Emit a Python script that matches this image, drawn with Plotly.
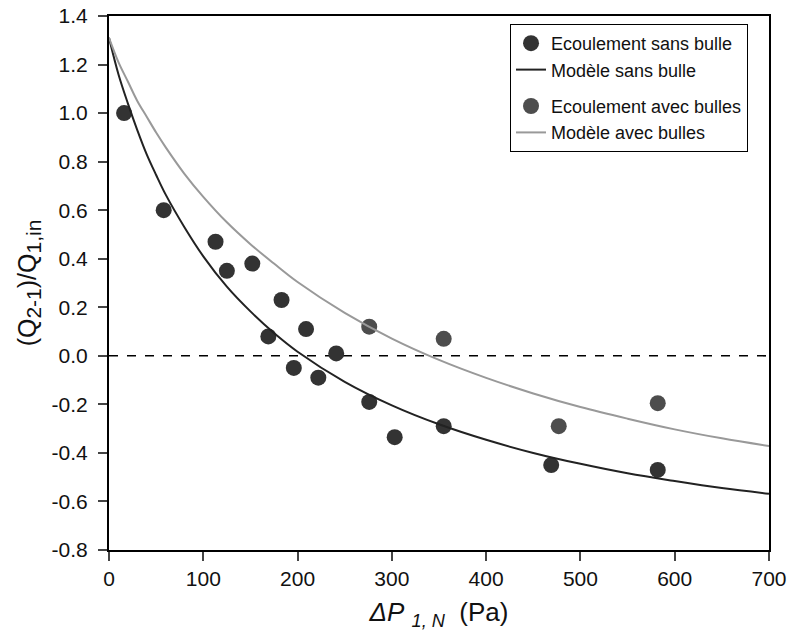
import plotly.graph_objects as go

# Measured points: flow without bubbles
sans_x = [16, 58, 113, 125, 152, 183, 169, 209, 241, 196, 222, 276, 303, 355, 469, 582]
sans_y = [1.00, 0.60, 0.47, 0.35, 0.38, 0.23, 0.08, 0.11, 0.01, -0.05, -0.09, -0.19, -0.335, -0.29, -0.45, -0.47]

# Measured points: flow with bubbles
avec_x = [276, 355, 477, 582]
avec_y = [0.12, 0.07, -0.29, -0.195]

# Model curves
model_x = [0, 10, 20, 30, 40, 50, 60, 80, 100, 125, 150, 175, 200, 250, 300, 350, 400, 450, 500, 550, 600, 650, 700]
model_sans_y = [1.31, 1.16, 1.04, 0.93, 0.83, 0.745, 0.665, 0.53, 0.41, 0.285, 0.183, 0.094, 0.017, -0.107, -0.204, -0.282, -0.346, -0.400, -0.445, -0.484, -0.516, -0.545, -0.568]
model_avec_y = [1.31, 1.21, 1.13, 1.05, 0.985, 0.92, 0.86, 0.75, 0.655, 0.55, 0.46, 0.38, 0.304, 0.177, 0.071, -0.017, -0.091, -0.155, -0.211, -0.259, -0.303, -0.340, -0.372]

x_ticks = [0, 100, 200, 300, 400, 500, 600, 700]
y_ticks = [-0.8, -0.6, -0.4, -0.2, 0.0, 0.2, 0.4, 0.6, 0.8, 1.0, 1.2, 1.4]
y_ticktext = ["-0.8", "-0.6", "-0.4", "-0.2", "0.0", "0.2", "0.4", "0.6", "0.8", "1.0", "1.2", "1.4"]

FONT = "Liberation Sans, Arial, sans-serif"

fig = go.Figure()
fig.add_trace(go.Scatter(x=sans_x, y=sans_y, mode="markers", name="Ecoulement sans bulle",
                         marker=dict(size=16, color="#333333"), legendgroup="a"))
fig.add_trace(go.Scatter(x=model_x, y=model_sans_y, mode="lines", name="Modèle sans bulle",
                         line=dict(color="#222222", width=2, shape="spline"), legendgroup="a"))
fig.add_trace(go.Scatter(x=avec_x, y=avec_y, mode="markers", name="Ecoulement avec bulles",
                         marker=dict(size=16, color="#4d4d4d"), legendgroup="b"))
fig.add_trace(go.Scatter(x=model_x, y=model_avec_y, mode="lines", name="Modèle avec bulles",
                         line=dict(color="#999999", width=2, shape="spline"), legendgroup="b"))

fig.add_shape(type="line", xref="paper", yref="y", x0=0, x1=1, y0=0, y1=0,
              line=dict(color="black", width=1.6, dash="dash"), layer="below")

fig.update_layout(
    width=790, height=639,
    margin=dict(l=109, r=21, t=16, b=89, autoexpand=False),
    plot_bgcolor="white", paper_bgcolor="white",
    font=dict(family=FONT, size=21, color="#111111"),
    showlegend=True,
    legend=dict(x=0.6076, y=0.985, xanchor="left", yanchor="top",
                bordercolor="black", borderwidth=1, bgcolor="white",
                font=dict(size=18, family=FONT), tracegroupgap=10,
                itemwidth=30),
    xaxis=dict(range=[0, 700], tickvals=x_ticks, ticks="outside", ticklen=9, tickwidth=1.5,
               showline=True, linecolor="black", linewidth=2, mirror=True, automargin=False,
               showgrid=False, zeroline=False, ticklabeloverflow="allow",
               title=dict(text="<i>ΔP</i> <sub><i>1, N</i></sub>  (Pa)", font=dict(size=26), standoff=14)),
    yaxis=dict(range=[-0.8, 1.4], tickvals=y_ticks, ticktext=y_ticktext, ticks="outside", ticklen=9, tickwidth=1.5,
               showline=True, linecolor="black", linewidth=2, mirror=True, automargin=False,
               showgrid=False, zeroline=False, ticklabeloverflow="allow", ticklabelstandoff=6,
               title=dict(text="(Q<sub><span style='font-size:21px'>2-1</span></sub>)/Q<sub><span style='font-size:21px'>1,in</span></sub>",
                          font=dict(size=25), standoff=8)),
)

fig.write_html("out.html", config={"displayModeBar": False},
               post_script="document.body.style.margin='0';document.body.style.overflow='hidden';")
